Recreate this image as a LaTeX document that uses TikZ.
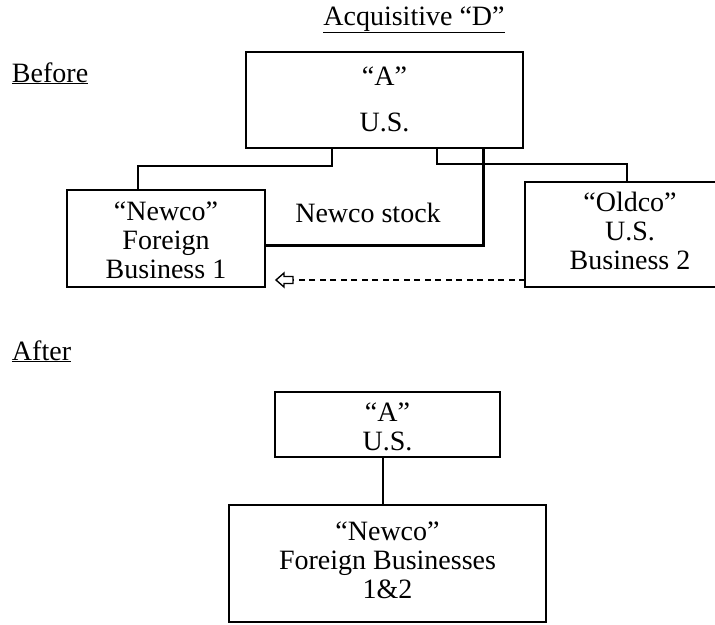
\documentclass[tikz,border=0pt]{standalone}
\usepackage{fontspec}
\setmainfont{Liberation Serif}
\begin{document}
\begin{tikzpicture}[x=1pt,y=-1pt,
  every node/.style={font=\fontsize{28}{29}\selectfont, inner sep=0pt, outer sep=0pt},
  box/.style={draw, line width=2pt},
  txt/.style={align=center},
  conn/.style={line width=1.5pt},
  thickconn/.style={line width=3pt},
  dashconn/.style={line width=1.3pt, dash pattern=on 6pt off 4.5pt}]
\useasboundingbox (0,0) rectangle (715,624);
\begin{scope}
\clip (0,0) rectangle (715,624);
% labels
\node[anchor=base] (title) at (414,25) {\underline{Acquisitive “D”}};
\node[anchor=base west] (before) at (12,82) {\underline{Before}};
\node[anchor=base west] (after) at (12,360) {\underline{After}};
% before boxes
\node[box, minimum width=277pt, minimum height=96pt] (A) at (384.5,100) {};
\node[txt] (Atext) at (384.5,99) {“A”\\[17pt]U.S.};
\node[box, minimum width=198pt, minimum height=97pt] (N) at (166,238.5) {};
\node[txt] (Ntext) at (166,240) {“Newco”\\Foreign\\Business 1};
\node[box, minimum width=195pt, minimum height=105pt] (O) at (622.5,234.5) {};
\node[txt] (Otext) at (630,231) {“Oldco”\\U.S.\\Business 2};
\node[anchor=base] (stock) at (368,222) {Newco stock};
% connectors
\draw[conn] ([xshift=-52.5pt]A.south) -- ++(0,18) -| ([xshift=-28pt]N.north);
\draw[conn] ([xshift=52.5pt]A.south) -- ++(0,16) -| ([xshift=4.5pt]O.north);
\draw[thickconn] ([xshift=98.5pt]A.south) |- ([yshift=-6.5pt]N.east);
\coordinate (arrowtail) at (293,280);
\draw[dashconn] ([yshift=-45.5pt]O.west) -- (arrowtail);
\draw[line width=1.4pt, line join=miter] (arrowtail) -- ++(0,-3.5) -- ++(-9,0) -- ++(0,-3.5) -- ++(-8,7) -- ++(8,7) -- ++(0,-3.5) -- ++(9,0) -- cycle;
% after boxes
\node[box, minimum width=225pt, minimum height=65pt] (A2) at (387.5,424.5) {};
\node[txt] (A2text) at (387.5,427) {“A”\\U.S.};
\node[box, minimum width=317pt, minimum height=117pt] (N2) at (387.5,563.5) {};
\node[txt] (N2text) at (387.5,560) {“Newco”\\Foreign Businesses\\1\&2};
\draw[conn] ([xshift=-4.5pt]A2.south) -- ([xshift=-4.5pt]N2.north);
\end{scope}
\end{tikzpicture}
\end{document}
